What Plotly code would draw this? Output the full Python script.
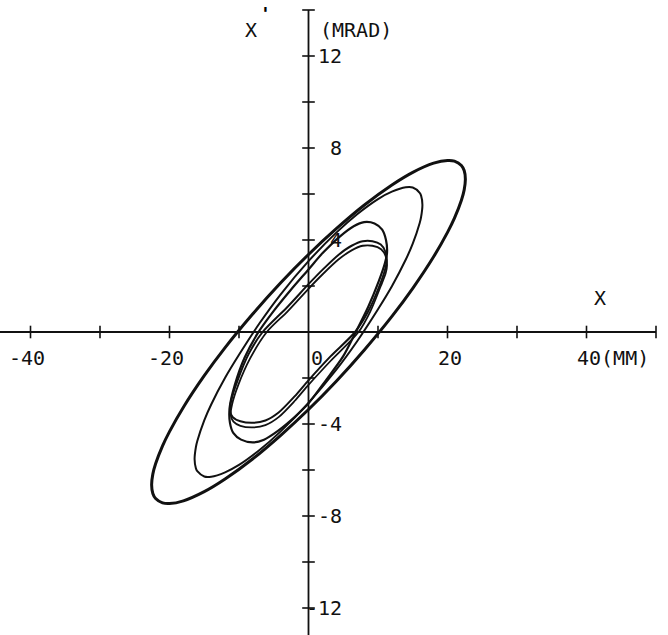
import plotly.graph_objects as go

# ---------------- data ----------------
# x in mm, x' in mrad
outer_x = [22.57, 22.4, 22.0, 21.0, 20.0, 18.0, 15.0, 12.0, 8.0, 4.0, 0.0, -4.0, -8.0, -12.0, -15.0,
           -18.0, -20.0, -21.0, -22.0, -22.4, -22.57, -22.4, -22.0, -21.0, -20.0, -18.0, -15.0, -12.0,
           -8.0, -4.0, 0.0, 4.0, 8.0, 12.0, 15.0, 18.0, 20.0, 21.0, 22.0, 22.4, 22.57]
outer_y = [6.65, 7.02, 7.24, 7.43, 7.46, 7.34, 6.94, 6.39, 5.51, 4.49, 3.37, 2.14, 0.79, -0.68, -1.90,
           -3.27, -4.33, -4.95, -5.73, -6.18, -6.65, -7.02, -7.24, -7.43, -7.46, -7.34, -6.94, -6.39,
           -5.51, -4.49, -3.37, -2.14, -0.79, 0.68, 1.90, 3.27, 4.33, 4.95, 5.73, 6.18, 6.65]

second_x = [16.39, 16.2, 16.0, 15.0, 14.0, 12.0, 10.0, 7.0, 4.0, 0.0, -4.0, -7.0, -10.0, -12.0, -14.0,
            -15.0, -16.0, -16.2, -16.39, -16.2, -16.0, -15.0, -14.0, -12.0, -10.0, -7.0, -4.0, 0.0,
            4.0, 7.0, 10.0, 12.0, 14.0, 15.0, 16.0, 16.2, 16.39]
second_y = [5.53, 5.93, 6.05, 6.28, 6.29, 6.10, 5.78, 5.12, 4.32, 3.08, 1.64, 0.40, -0.99, -1.99, -3.15,
            -3.84, -4.74, -5.00, -5.53, -5.93, -6.05, -6.28, -6.29, -6.10, -5.78, -5.12, -4.32, -3.08,
            -1.64, -0.40, 0.99, 1.99, 3.15, 3.84, 4.74, 5.00, 5.53]

innerA_x = [11.3, 11.15, 10.6, 9.5, 8.0, 6.5, 4.5, 2.0, 0.0, -2.5, -5.0, -7.3, -9.2, -10.6, -11.35,
            -11.3, -10.8, -9.7, -8.0, -6.4, -4.4, -2.0, 0.0, 2.5, 5.0, 6.8, 8.6, 10.1, 11.0, 11.3]
innerA_y = [3.45, 4.0, 4.45, 4.72, 4.78, 4.6, 4.15, 3.42, 2.72, 1.85, 0.92, -0.05, -1.12, -2.3, -3.3,
            -3.95, -4.4, -4.68, -4.8, -4.68, -4.3, -3.7, -3.1, -2.1, -1.05, 0.0, 1.1, 2.2, 3.0, 3.45]

innerB_x = [11.25, 11.05, 10.4, 9.2, 7.8, 6.2, 4.3, 2.0, 0.0, -3.0, -6.6, -8.6, -10.2, -11.1, -11.3,
            -10.9, -9.8, -8.0, -6.2, -4.3, -2.0, 0.0, 3.2, 6.7, 8.6, 10.2, 11.0, 11.25]
innerB_y = [3.1, 3.5, 3.8, 3.95, 3.95, 3.75, 3.35, 2.7, 2.08, 1.1, 0.0, -0.95, -2.1, -2.95, -3.4,
            -3.7, -3.88, -3.95, -3.85, -3.5, -2.8, -2.1, -1.05, 0.0, 0.9, 2.0, 2.7, 3.1]

innerC_x = [11.3, 11.1, 10.45, 9.2, 7.8, 6.2, 4.3, 2.0, 0.0, -3.0, -6.0, -8.4, -10.1, -11.0, -11.2,
            -10.8, -9.8, -8.0, -6.2, -4.3, -2.0, 0.0, 3.2, 7.2, 8.9, 10.4, 11.1, 11.3]
innerC_y = [2.9, 3.3, 3.6, 3.75, 3.75, 3.55, 3.15, 2.5, 1.88, 0.9, 0.0, -1.15, -2.3, -3.15, -3.6,
            -3.9, -4.08, -4.15, -4.05, -3.7, -3.0, -2.3, -1.25, 0.0, 0.9, 2.0, 2.55, 2.9]

x_ticks = [-40, -30, -20, -10, 10, 20, 30, 40, 50]
y_ticks = [-12, -10, -8, -6, -4, -2, 2, 4, 6, 8, 10, 12, 14]
x_label_vals = [-40, -20, 0, 20, 40]
x_label_text = ["-40", "-20", "0", "20", "40(MM)"]
y_label_vals = [12, 8, 4, -4, -8, -12]
y_label_text = ["12", "8", "4", "-4", "-8", "-12"]
x_axis_span = [-45, 50]
y_axis_span = [-14, 14]

# ---------------- layout geometry ----------------
W, H = 668, 635
PX_PER_MM = 6.95      # horizontal scale
PX_PER_MRAD = 23.0    # vertical scale
X0_PX, Y0_PX = 308.5, 332.0
xr = [-X0_PX / PX_PER_MM, (W - X0_PX) / PX_PER_MM]
yr = [(Y0_PX - H) / PX_PER_MRAD, Y0_PX / PX_PER_MRAD]


def dx(px):
    return px / PX_PER_MM


def dy(px):
    return px / PX_PER_MRAD


INK = "#111111"
FONT = dict(family="DejaVu Sans Mono", size=20, color=INK)
ADV = 0.602 * 20

fig = go.Figure()

curves = [
    (outer_x, outer_y, 3.0),
    (second_x, second_y, 2.0),
    (innerA_x, innerA_y, 2.2),
    (innerB_x, innerB_y, 2.0),
    (innerC_x, innerC_y, 1.8),
]
for cx, cy, w in curves:
    fig.add_trace(go.Scatter(x=cx, y=cy, mode="lines",
                             line=dict(color=INK, width=w, shape="spline", smoothing=0.8),
                             hoverinfo="skip", showlegend=False))

# axes lines
fig.add_trace(go.Scatter(x=x_axis_span, y=[0, 0], mode="lines",
                         line=dict(color=INK, width=1.8), showlegend=False, hoverinfo="skip"))
fig.add_trace(go.Scatter(x=[0, 0], y=y_axis_span, mode="lines",
                         line=dict(color=INK, width=1.8), showlegend=False, hoverinfo="skip"))
# tick marks
fig.add_trace(go.Scatter(x=x_ticks, y=[0] * len(x_ticks), mode="markers",
                         marker=dict(symbol="line-ns", size=9, line=dict(color=INK, width=1.6)),
                         showlegend=False, hoverinfo="skip"))
fig.add_trace(go.Scatter(x=[0] * len(y_ticks), y=y_ticks, mode="markers",
                         marker=dict(symbol="line-ew", size=9, line=dict(color=INK, width=1.6)),
                         showlegend=False, hoverinfo="skip"))

ann = []
for v, t in zip(x_label_vals, x_label_text):
    nlen = len(t.replace("(MM)", ""))
    ann.append(dict(x=v + dx(13 - nlen * ADV), y=-dy(26), text=t, xanchor="left",
                    yanchor="middle", showarrow=False, font=FONT))
for v, t in zip(y_label_vals, y_label_text):
    ann.append(dict(x=dx(35), y=v, text=t, xanchor="right", yanchor="middle",
                    showarrow=False, font=FONT))
# axis titles
ann.append(dict(x=dx(600 - X0_PX), y=dy(Y0_PX - 298), text="X", xanchor="center",
                yanchor="middle", showarrow=False, font=FONT))
ann.append(dict(x=dx(251 - X0_PX), y=dy(Y0_PX - 30), text="X", xanchor="center",
                yanchor="middle", showarrow=False, font=FONT))
ann.append(dict(x=dx(265 - X0_PX), y=dy(Y0_PX - 13), text="<b>'</b>", xanchor="center",
                yanchor="middle", showarrow=False,
                font=dict(family="DejaVu Sans Mono", size=18, color="#000000")))
ann.append(dict(x=dx(318 - X0_PX), y=dy(Y0_PX - 30), text="(MRAD)", xanchor="left",
                yanchor="middle", showarrow=False, font=FONT))

fig.update_layout(
    width=W, height=H, autosize=False,
    margin=dict(l=0, r=0, t=0, b=0),
    paper_bgcolor="white", plot_bgcolor="white",
    xaxis=dict(range=xr, visible=False, fixedrange=True),
    yaxis=dict(range=yr, visible=False, fixedrange=True),
    annotations=ann,
    showlegend=False,
)

fig.write_html("out.html", post_script="document.body.style.margin='0px';",
               config={"displayModeBar": False})
